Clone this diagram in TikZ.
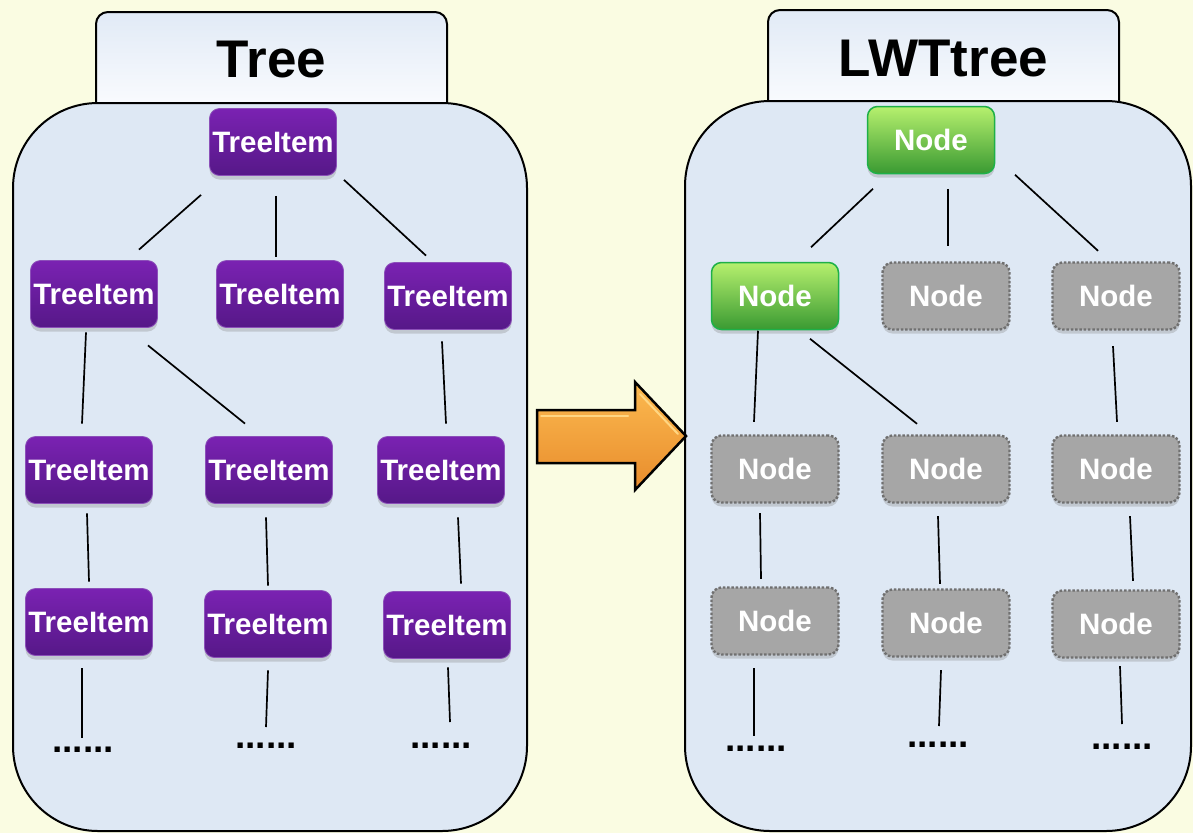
\documentclass[tikz,border=0pt]{standalone}
\usepackage{fontspec}
\setmainfont{Liberation Sans}
\usetikzlibrary{shadows}
\definecolor{bgc}{RGB}{250,252,226}
\definecolor{bodyc}{RGB}{222,232,244}
\definecolor{tabT}{RGB}{225,234,246}
\definecolor{tabB}{RGB}{252,253,255}
\definecolor{purpT}{RGB}{122,34,178}
\definecolor{purpB}{RGB}{86,24,136}
\definecolor{purpE}{RGB}{140,80,185}
\definecolor{grnT}{RGB}{182,240,110}
\definecolor{grnM}{RGB}{96,190,64}
\definecolor{grnB}{RGB}{58,154,50}
\definecolor{grnE}{RGB}{30,176,72}
\definecolor{gryF}{RGB}{166,166,166}
\definecolor{gryE}{RGB}{112,112,112}
\definecolor{arrT}{RGB}{252,186,80}
\definecolor{arrM}{RGB}{249,162,58}
\definecolor{arrB}{RGB}{232,140,44}
\definecolor{arrH}{RGB}{255,214,130}
\tikzset{
  boxbase/.style={rounded corners=10pt, minimum width=127pt, minimum height=67pt, inner sep=0pt,
    text=white, font=\fontsize{29.5}{32}\selectfont\bfseries},
  shadowsty/.style={drop shadow={opacity=0.3, shadow xshift=0pt, shadow yshift=-4pt}},
  titem/.style={boxbase, shadowsty, top color=purpT, bottom color=purpB, draw=purpE, line width=0.8pt},
  gnode/.style={boxbase, shadowsty, top color=grnT, middle color=grnM, bottom color=grnB, draw=grnE, line width=1.5pt},
  xnode/.style={boxbase, shadowsty, fill=gryF, draw=gryE, line width=2.4pt, dash pattern=on 2.5pt off 1.8pt},
  linksty/.style={line width=1.7pt, black},
  dotsty/.style={font=\fontsize{37}{37}\selectfont\bfseries, inner sep=0pt},
  ttlsty/.style={font=\fontsize{53}{53}\selectfont\bfseries, inner sep=0pt},
  bodysty/.style={fill=bodyc, draw=black, line width=2pt, rounded corners=85pt},
  tabsty/.style={top color=tabT, bottom color=tabB, draw=black, line width=2pt, rounded corners=12pt},
  arrsty/.style={top color=arrT, middle color=arrM, bottom color=arrB, draw=black, line width=2.5pt, line join=miter},
}
\begin{document}
\begin{tikzpicture}[x=1pt,y=1pt]
\useasboundingbox (0,0) rectangle (1193,-833);
\fill[bgc] (0,0) rectangle (1193,-833);

% left container
\path[tabsty] (96,-115) -- (96,-12) -- (447,-12) -- (447,-115);
\path[bodysty] (13,-103) rectangle (527,-831);
\node[ttlsty] (T1) at (271.5,-60) {Tree};

% right container
\path[tabsty] (768,-115) -- (768,-10) -- (1119,-10) -- (1119,-115);
\path[bodysty] (685,-101) rectangle (1191,-831);
\node[ttlsty] (T2) at (943.5,-58.5) {LWTtree};

% arrow
\path[arrsty] (537,-410) -- (635,-410) -- (635,-382) -- (686,-436) -- (635,-490) -- (635,-463) -- (537,-463) -- cycle;
\draw[arrH, line width=2pt, line cap=round] (541,-416) -- (628,-416);
\draw[arrH, line width=2pt, line cap=round] (640,-394) -- (678,-434);

% left tree
\node[titem] (L0) at (273,-142) {TreeItem};
\node[titem] (L1a) at (94,-294) {TreeItem};
\node[titem] (L1b) at (280,-294) {TreeItem};
\node[titem] (L1c) at (448,-296) {TreeItem};
\node[titem] (L2a) at (89,-470) {TreeItem};
\node[titem] (L2b) at (269,-470) {TreeItem};
\node[titem] (L2c) at (441,-470) {TreeItem};
\node[titem] (L3a) at (89,-622) {TreeItem};
\node[titem] (L3b) at (268,-624) {TreeItem};
\node[titem] (L3c) at (447,-625) {TreeItem};
\node[dotsty] (D1) at (83,-750) {......};
\node[dotsty] (D2) at (266,-746) {......};
\node[dotsty] (D3) at (441,-746) {......};

\draw[linksty] ([shift={(-72,-19)}]L0.south) -- ([shift={(45,10.5)}]L1a.north);
\draw[linksty] ([shift={(3,-20)}]L0.south) -- ([shift={(-4,3.5)}]L1b.north);
\draw[linksty] ([shift={(71,-4)}]L0.south) -- ([shift={(-22,6.5)}]L1c.north);
\draw[linksty] ([shift={(-8,-4.5)}]L1a.south) -- ([shift={(-7,12.5)}]L2a.north);
\draw[linksty] ([shift={(54,-17.5)}]L1a.south) -- ([shift={(-24,12.5)}]L2b.north);
\draw[linksty] ([shift={(-6,-11.5)}]L1c.south) -- ([shift={(5,12.5)}]L2c.north);
\draw[linksty] ([shift={(-2,-9.5)}]L2a.south) -- ([shift={(0,6.5)}]L3a.north);
\draw[linksty] ([shift={(-3,-13.5)}]L2b.south) -- ([shift={(0,4.5)}]L3b.north);
\draw[linksty] ([shift={(17,-13.5)}]L2c.south) -- ([shift={(14,7.5)}]L3c.north);
\draw[linksty] ([shift={(-7,-12.5)}]L3a.south) -- ([shift={(-1,12)}]D1.center);
\draw[linksty] ([shift={(0,-12.5)}]L3b.south) -- ([shift={(0,19)}]D2.center);
\draw[linksty] ([shift={(1,-8.5)}]L3c.south) -- ([shift={(9,24)}]D3.center);

% right tree
\node[gnode] (R0) at (931,-140) {Node};
\node[gnode] (R1a) at (775,-296) {Node};
\node[xnode] (R1b) at (946,-296) {Node};
\node[xnode] (R1c) at (1116,-296) {Node};
\node[xnode] (R2a) at (775,-469) {Node};
\node[xnode] (R2b) at (946,-469) {Node};
\node[xnode] (R2c) at (1116,-469) {Node};
\node[xnode] (R3a) at (775,-621) {Node};
\node[xnode] (R3b) at (946,-623) {Node};
\node[xnode] (R3c) at (1116,-624) {Node};
\node[dotsty] (E1) at (756,-749) {......};
\node[dotsty] (E2) at (938,-745) {......};
\node[dotsty] (E3) at (1122,-747) {......};

\draw[linksty] ([shift={(-58,-14.5)}]R0.south) -- ([shift={(36,14.5)}]R1a.north);
\draw[linksty] ([shift={(17,-14.5)}]R0.south) -- ([shift={(2,15.5)}]R1b.north);
\draw[linksty] ([shift={(84,-0.5)}]R0.south) -- ([shift={(-18,10.5)}]R1c.north);
\draw[linksty] ([shift={(-17,-0.5)}]R1a.south) -- ([shift={(-21,12.5)}]R2a.north);
\draw[linksty] ([shift={(35,-8.5)}]R1a.south) -- ([shift={(-29,10.5)}]R2b.north);
\draw[linksty] ([shift={(-3,-15.5)}]R1c.south) -- ([shift={(1,12.5)}]R2c.north);
\draw[linksty] ([shift={(-15,-9.5)}]R2a.south) -- ([shift={(-14,7.5)}]R3a.north);
\draw[linksty] ([shift={(-8,-12.5)}]R2b.south) -- ([shift={(-6,4.5)}]R3b.north);
\draw[linksty] ([shift={(14,-12.5)}]R2c.south) -- ([shift={(17,8.5)}]R3c.north);
\draw[linksty] ([shift={(-21,-12.5)}]R3a.south) -- ([shift={(-2,13)}]E1.center);
\draw[linksty] ([shift={(-5,-12.5)}]R3b.south) -- ([shift={(1,19)}]E2.center);
\draw[linksty] ([shift={(4,-7.5)}]R3c.south) -- ([shift={(0,23)}]E3.center);
\end{tikzpicture}
\end{document}
